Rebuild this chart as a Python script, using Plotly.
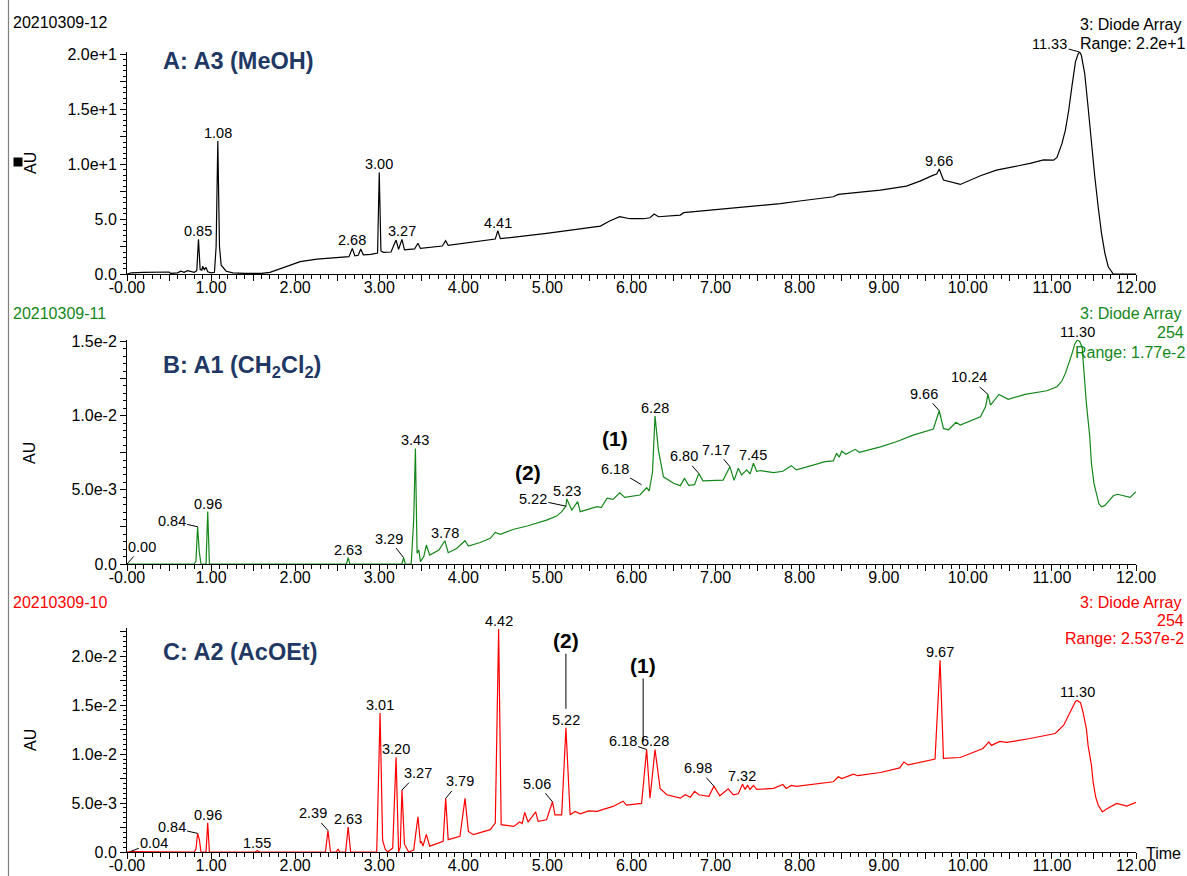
import plotly.graph_objects as go

W, H = 1187, 876

# ---------------- data ----------------
# A: 20210309-12, extract A3 (MeOH) - absorbance in AU
time_a = [0.00, 0.05, 0.20, 0.40, 0.50, 0.52, 0.60, 0.64, 0.68, 0.72, 0.76, 0.80, 0.83, 0.85,
          0.87, 0.89, 0.90, 0.92, 0.94, 0.96, 1.00, 1.04, 1.06, 1.08, 1.10, 1.12, 1.18, 1.26,
          1.40, 1.60, 1.70, 1.86, 2.06, 2.26, 2.45, 2.64, 2.68, 2.71, 2.75, 2.78, 2.81, 2.90,
          2.98, 3.00, 3.02, 3.05, 3.14, 3.20, 3.23, 3.27, 3.30, 3.42, 3.46, 3.49, 3.75, 3.79,
          3.82, 4.38, 4.41, 4.44, 4.99, 5.39, 5.63, 5.74, 5.86, 5.98, 6.14, 6.22, 6.27, 6.32,
          6.58, 6.62, 6.97, 7.37, 7.77, 8.00, 8.40, 8.46, 8.96, 9.27, 9.43, 9.59, 9.63, 9.66,
          9.71, 9.91, 10.15, 10.34, 10.74, 10.90, 11.02, 11.06, 11.12, 11.16, 11.20, 11.24,
          11.28, 11.31, 11.33, 11.35, 11.39, 11.43, 11.47, 11.51, 11.55, 11.59, 11.63, 11.67,
          11.73, 12.00]
au_a = [0.0, 0.10, 0.15, 0.18, 0.18, 0.05, 0.10, 0.25, 0.15, 0.30, 0.20, 0.15, 0.30, 3.15,
        0.40, 0.35, 0.70, 0.40, 0.60, 0.20, 0.10, 0.15, 2.5, 12.1, 2.5, 0.8, 0.25, 0.10,
        0.05, 0.05, 0.15, 0.60, 1.12, 1.36, 1.48, 1.58, 2.33, 1.65, 1.70, 2.28, 1.75, 1.79,
        1.90, 9.24, 2.10, 1.97, 2.00, 3.09, 2.24, 3.15, 2.20, 2.28, 2.80, 2.33, 2.55, 3.03,
        2.60, 3.18, 3.94, 3.21, 3.70, 4.12, 4.36, 4.82, 5.21, 5.03, 5.03, 5.12, 5.45, 5.21,
        5.36, 5.58, 5.82, 6.12, 6.40, 6.64, 7.03, 7.24, 7.64, 8.00, 8.45, 9.00, 9.09, 9.55,
        8.55, 8.15, 8.94, 9.45, 10.06, 10.39, 10.36, 10.60, 11.88, 13.09, 14.90, 17.18,
        19.30, 20.0, 20.2, 19.9, 18.24, 15.20, 11.88, 8.85, 6.12, 3.70, 1.88, 0.66,
        0.0, 0.0]
peaks_a = [0.85, 1.08, 2.68, 3.00, 3.27, 4.41, 9.66]
leader_peaks_a = [11.33]

# B: 20210309-11, extract A1 (CH2Cl2) - absorbance in mAU (x 1e-3 AU)
time_b = [0.00, 0.80, 0.82, 0.84, 0.86, 0.88, 0.94, 0.96, 0.98, 2.61, 2.63, 2.65, 3.27, 3.29,
          3.31, 3.38, 3.41, 3.43, 3.45, 3.47, 3.49, 3.53, 3.56, 3.60, 3.71, 3.78, 3.82, 3.92,
          4.02, 4.06, 4.20, 4.32, 4.38, 4.44, 4.60, 4.76, 4.99, 5.11, 5.17, 5.22, 5.23, 5.29,
          5.36, 5.39, 5.59, 5.64, 5.71, 5.78, 5.86, 5.92, 6.10, 6.18, 6.21, 6.25, 6.28, 6.32,
          6.38, 6.50, 6.58, 6.63, 6.68, 6.75, 6.80, 6.85, 7.09, 7.17, 7.22, 7.27, 7.31, 7.37,
          7.41, 7.45, 7.49, 7.53, 7.69, 7.80, 7.90, 7.96, 8.16, 8.30, 8.40, 8.44, 8.47, 8.50,
          8.55, 8.66, 8.71, 8.96, 9.15, 9.35, 9.59, 9.66, 9.71, 9.77, 9.86, 9.91, 10.15, 10.21,
          10.24, 10.27, 10.37, 10.48, 10.68, 10.94, 11.06, 11.12, 11.16, 11.20, 11.24, 11.27,
          11.30, 11.33, 11.36, 11.38, 11.41, 11.45, 11.47, 11.50, 11.53, 11.56, 11.59, 11.63,
          11.67, 11.73, 11.78, 11.85, 11.93, 12.00]
mau_b = [0.0, 0.0, 0.2, 2.51, 0.8, 0.0, 0.0, 3.53, 0.0, 0.0, 0.43, 0.0, 0.0, 0.43,
         0.0, 0.0, 3.0, 7.79, 0.72, 0.94, 0.16, 0.50, 1.28, 0.60, 0.94, 1.57, 0.76, 1.05,
         1.57, 1.21, 1.45, 1.73, 2.13, 2.00, 2.34, 2.56, 2.96, 3.23, 3.53, 3.90, 4.38, 3.64,
         4.20, 3.53, 3.86, 3.80, 4.43, 4.36, 4.80, 4.49, 4.65, 5.14, 4.92, 6.20, 9.97, 7.68,
         5.88, 5.44, 5.28, 5.77, 5.30, 5.35, 6.11, 5.61, 5.66, 6.56, 5.64, 6.45, 6.00, 6.34,
         6.07, 6.79, 6.23, 6.30, 6.16, 6.25, 6.63, 6.34, 6.67, 6.90, 6.95, 7.46, 7.20, 7.60,
         7.40, 7.73, 7.53, 7.90, 8.24, 8.69, 9.10, 10.33, 9.14, 9.05, 9.55, 9.37, 9.93, 10.60,
         11.43, 10.71, 11.43, 11.10, 11.43, 11.68, 11.95, 12.35, 12.85, 13.48, 14.20, 14.80,
         15.10, 15.00, 14.60, 13.07, 10.83, 8.58, 6.79, 5.44, 4.65, 4.04, 3.86, 3.95,
         4.20, 4.60, 4.70, 4.58, 4.49, 4.87]
peaks_b = [0.96, 2.63, 3.43, 3.78, 5.23, 6.28, 7.45, 11.30]
leader_peaks_b = [0.00, 0.84, 3.29, 5.22, 6.18, 6.80, 7.17, 9.66, 10.24]

# C: 20210309-10, extract A2 (AcOEt) - absorbance in mAU (x 1e-3 AU)
time_c = [0.00, 0.04, 0.80, 0.82, 0.84, 0.86, 0.88, 0.94, 0.96, 0.98, 1.52, 1.55, 1.58, 2.36,
          2.39, 2.42, 2.49, 2.51, 2.53, 2.60, 2.63, 2.66, 2.97, 3.01, 3.04, 3.07, 3.10, 3.16,
          3.20, 3.23, 3.25, 3.27, 3.30, 3.35, 3.41, 3.46, 3.49, 3.50, 3.52, 3.56, 3.60, 3.70,
          3.76, 3.79, 3.82, 3.96, 4.02, 4.06, 4.12, 4.32, 4.38, 4.42, 4.45, 4.60, 4.67, 4.70,
          4.73, 4.77, 4.86, 4.89, 4.99, 5.06, 5.09, 5.17, 5.22, 5.27, 5.33, 5.39, 5.49, 5.59,
          5.78, 5.90, 5.94, 6.12, 6.18, 6.22, 6.28, 6.34, 6.42, 6.58, 6.64, 6.70, 6.75, 6.80,
          6.92, 6.98, 7.05, 7.15, 7.21, 7.27, 7.32, 7.35, 7.38, 7.41, 7.45, 7.49, 7.69, 7.80,
          7.84, 7.90, 7.96, 8.40, 8.46, 8.50, 8.64, 8.69, 8.96, 9.19, 9.24, 9.29, 9.47, 9.61,
          9.67, 9.71, 9.91, 10.18, 10.25, 10.28, 10.38, 10.46, 10.74, 11.04, 11.14, 11.20,
          11.24, 11.28, 11.30, 11.34, 11.37, 11.41, 11.43, 11.47, 11.49, 11.52, 11.55, 11.60,
          11.65, 11.69, 11.77, 11.89, 12.00]
mau_c = [0.0, 0.05, 0.0, 0.3, 1.90, 1.3, 0.0, 0.0, 3.0, 0.0, 0.0, 0.14, 0.0, 0.0,
         2.20, 0.0, 0.0, 0.30, 0.0, 0.0, 2.55, 0.0, 0.0, 14.2, 1.2, 0.3, 0.0, 0.4,
         9.69, 0.0, 0.5, 6.33, 0.8, 0.0, 0.2, 3.60, 0.9, 1.1, 0.6, 1.8, 0.6, 0.9,
         1.1, 5.48, 1.26, 1.60, 5.48, 2.10, 1.77, 2.28, 2.96, 22.8, 2.80, 2.62, 3.06, 2.90,
         4.05, 3.06, 4.10, 3.14, 3.30, 5.14, 3.80, 3.80, 12.70, 3.80, 4.15, 3.90, 4.20, 4.15,
         4.66, 5.20, 4.80, 4.97, 10.48, 5.50, 10.48, 6.50, 5.85, 5.50, 5.85, 5.60, 6.20, 5.85,
         5.70, 6.73, 5.75, 6.46, 5.85, 5.95, 6.94, 6.40, 6.80, 6.40, 6.80, 6.40, 6.50, 6.90,
         6.50, 6.80, 6.70, 7.18, 7.69, 7.50, 7.96, 7.80, 8.13, 8.60, 9.20, 8.90, 9.20, 9.50,
         19.6, 9.58, 9.66, 10.58, 11.26, 10.90, 11.30, 11.20, 11.60, 12.11, 12.96, 13.98,
         14.83, 15.40, 15.50, 15.27, 14.30, 12.60, 10.90, 8.88, 7.17, 5.64, 4.80, 4.10,
         4.39, 4.60, 4.97, 4.70, 5.07]
peaks_c = [0.96, 1.55, 2.63, 3.01, 3.20, 4.42, 5.22, 6.28, 7.32, 9.67, 11.30]
leader_peaks_c = [0.04, 0.84, 2.39, 3.27, 3.79, 5.06, 6.18, 6.98]

# axis tick labels
x_tick_vals = [i * 0.5 for i in range(25)]
x_tick_text = ["-0.00" if v == 0 else (f"{v:.2f}" if v == int(v) else " ") for v in x_tick_vals]
y_tick_vals_a = [0, 2.5, 5, 7.5, 10, 12.5, 15, 17.5, 20]
y_tick_text_a = ["0.0", " ", "5.0", " ", "1.0e+1", " ", "1.5e+1", " ", "2.0e+1"]
y_tick_vals_b = [0, 0.0025, 0.005, 0.0075, 0.010, 0.0125, 0.015]
y_tick_text_b = ["0.0", " ", "5.0e-3", " ", "1.0e-2", " ", "1.5e-2"]
y_tick_vals_c = [0, 0.0025, 0.005, 0.0075, 0.010, 0.0125, 0.015, 0.0175, 0.020, 0.0225]
y_tick_text_c = ["0.0", " ", "5.0e-3", " ", "1.0e-2", " ", "1.5e-2", " ", "2.0e-2", " "]

au_b = [v * 1e-3 for v in mau_b]
au_c = [v * 1e-3 for v in mau_c]

# ---------------- styling ----------------
FONT = "Liberation Sans"
GREEN = "#14871a"
RED = "#ff0000"
NAVY = "#1f3864"


def px(xp):
    return xp / W


def py(yp):
    return 1 - yp / H


fig = go.Figure()
fig.add_trace(go.Scatter(x=time_a, y=au_a, mode="lines", line=dict(color="black", width=1.2),
                         xaxis="x", yaxis="y", showlegend=False, hoverinfo="skip"))
fig.add_trace(go.Scatter(x=time_b, y=au_b, mode="lines", line=dict(color=GREEN, width=1.2),
                         xaxis="x2", yaxis="y2", showlegend=False, hoverinfo="skip"))
fig.add_trace(go.Scatter(x=time_c, y=au_c, mode="lines", line=dict(color=RED, width=1.2),
                         xaxis="x3", yaxis="y3", showlegend=False, hoverinfo="skip"))


def xaxis_def(anchor):
    return dict(range=[0, 12], domain=[px(127), px(1136)], anchor=anchor, automargin=False,
                showline=True, linecolor="black", linewidth=1, mirror=False,
                showgrid=False, zeroline=False,
                ticks="outside", ticklen=6, tickwidth=1, tickcolor="black",
                ticklabelstandoff=-7,
                tickmode="array", tickvals=x_tick_vals, ticktext=x_tick_text,
                minor=dict(dtick=0.1, tick0=0, ticks="outside", ticklen=3.5,
                           tickcolor="black", tickwidth=1, showgrid=False),
                tickfont=dict(family=FONT, size=16, color="black"))


def yaxis_def(anchor, top_px, bottom_px, rng, vals, text, minor_step):
    return dict(range=rng, domain=[py(bottom_px), py(top_px)], anchor=anchor, automargin=False,
                showline=True, linecolor="black", linewidth=1,
                showgrid=False, zeroline=False,
                ticks="outside", ticklen=6, tickwidth=1, tickcolor="black",
                tickmode="array", tickvals=vals, ticktext=text,
                minor=dict(dtick=minor_step, tick0=0, ticks="outside", ticklen=3,
                           tickcolor="black", tickwidth=1, showgrid=False),
                tickfont=dict(family=FONT, size=16, color="black"))


fig.update_layout(
    width=W, height=H, autosize=False,
    margin=dict(l=0, r=0, t=0, b=0, autoexpand=False),
    paper_bgcolor="white", plot_bgcolor="white",
    xaxis=xaxis_def("y"), xaxis2=xaxis_def("y2"), xaxis3=xaxis_def("y3"),
    yaxis=yaxis_def("x", 52, 274, [0, 20.2], y_tick_vals_a, y_tick_text_a, 0.5),
    yaxis2=yaxis_def("x2", 340, 564, [0, 0.0151], y_tick_vals_b, y_tick_text_b, 0.0005),
    yaxis3=yaxis_def("x3", 628, 852, [0, 0.0229], y_tick_vals_c, y_tick_text_c, 0.0005),
)

ann = []
LBL = dict(family=FONT, size=14.5, color="black")


def plain_label(times, vals, t, xa, ya):
    return dict(x=t, y=vals[times.index(t)], xref=xa, yref=ya, text=f"{t:.2f}",
                showarrow=False, yanchor="bottom", yshift=-2, font=LBL)


def leader_label(times, vals, t, xa, ya, dx, dy, standoff=0):
    return dict(x=t, y=vals[times.index(t)], xref=xa, yref=ya, text=f"{t:.2f}",
                showarrow=True, arrowhead=0, arrowwidth=1, arrowcolor="black",
                ax=dx, ay=dy, standoff=standoff, font=LBL)


# text offsets (px) of the leader-line labels
offsets_a = {11.33: (-30, -8)}
offsets_b = {0.00: (15, -17), 0.84: (-26, -6), 3.29: (-15, -19), 5.22: (-33, -7),
             6.18: (-32, -19), 6.80: (-15, -17), 7.17: (-14, -17), 9.66: (-15, -17),
             10.24: (-19, -17)}
offsets_c = {0.04: (24, -9), 0.84: (-26, -6), 2.39: (-15, -17), 3.27: (16, -17),
             3.79: (14, -17), 5.06: (-15, -18), 6.18: (-24, -8), 6.98: (-16, -18)}
standoff_b = {6.18: 6}

for t in peaks_a:
    ann.append(plain_label(time_a, au_a, t, "x", "y"))
for t in leader_peaks_a:
    ann.append(leader_label(time_a, au_a, t, "x", "y", *offsets_a[t]))
for t in peaks_b:
    ann.append(plain_label(time_b, au_b, t, "x2", "y2"))
for t in leader_peaks_b:
    ann.append(leader_label(time_b, au_b, t, "x2", "y2", *offsets_b[t], standoff=standoff_b.get(t, 0)))
for t in peaks_c:
    ann.append(plain_label(time_c, au_c, t, "x3", "y3"))
for t in leader_peaks_c:
    ann.append(leader_label(time_c, au_c, t, "x3", "y3", *offsets_c[t]))

# compound markers
BOLD = dict(family=FONT, size=21, color="black")
ann.append(dict(x=5.23, y=au_b[time_b.index(5.23)], xref="x2", yref="y2", text="<b>(2)</b>",
                showarrow=False, xshift=-39, yshift=27, font=BOLD))
ann.append(dict(x=6.18, y=au_b[time_b.index(6.18)], xref="x2", yref="y2", text="<b>(1)</b>",
                showarrow=False, xshift=-32, yshift=49, font=BOLD))
ann.append(dict(x=5.22, y=au_c[time_c.index(5.22)], xref="x3", yref="y3", text="<b>(2)</b>",
                showarrow=True, arrowhead=0, arrowwidth=1, arrowcolor="black",
                ax=0, ay=-87, standoff=19, font=BOLD))
ann.append(dict(x=6.18, y=au_c[time_c.index(6.18)], xref="x3", yref="y3", text="<b>(1)</b>",
                showarrow=True, arrowhead=0, arrowwidth=1, arrowcolor="black",
                ax=0, ay=-84, standoff=8, xshift=-3.5, font=BOLD))


def paper_text(text, xp, yp, anchor="left", color="black", size=16, bold=False):
    return dict(x=px(xp), y=py(yp), xref="paper", yref="paper", text=f"<b>{text}</b>" if bold else text,
                showarrow=False, xanchor=anchor, yanchor="middle",
                font=dict(family=FONT, size=size, color=color))


# panel titles
ann.append(paper_text("A: A3 (MeOH)", 161, 61, color=NAVY, size=23.5, bold=True))
ann.append(paper_text("B: A1 (CH<sub>2</sub>Cl<sub>2</sub>)", 161, 366, color=NAVY, size=23.5, bold=True))
ann.append(paper_text("C: A2 (AcOEt)", 161, 652, color=NAVY, size=23.5, bold=True))

# sample names
ann.append(paper_text("20210309-12", 11, 23))
ann.append(paper_text("20210309-11", 11, 313, color=GREEN))
ann.append(paper_text("20210309-10", 11, 602, color=RED))

# detector headers
ann.append(paper_text("3: Diode Array", 1183, 24, anchor="right"))
ann.append(paper_text("Range: 2.2e+1", 1078, 43))
ann.append(paper_text("3: Diode Array", 1183, 313, anchor="right", color=GREEN))
ann.append(paper_text("254", 1186, 332, anchor="right", color=GREEN))
ann.append(paper_text("Range: 1.77e-2", 1073, 352, color=GREEN))
ann.append(paper_text("3: Diode Array", 1183, 602, anchor="right", color=RED))
ann.append(paper_text("254", 1186, 620, anchor="right", color=RED))
ann.append(paper_text("Range: 2.537e-2", 1063, 638, color=RED))

# axis titles
for yp in (163, 453, 740):
    ann.append(dict(x=px(30), y=py(yp), xref="paper", yref="paper", text="AU", textangle=-90,
                    showarrow=False, xanchor="center", yanchor="middle",
                    font=dict(family=FONT, size=16, color="black")))
ann.append(paper_text("Time", 1144, 853))

fig.update_layout(annotations=ann)

fig.update_layout(shapes=[
    dict(type="line", xref="paper", yref="paper", x0=px(8.5), x1=px(8.5), y0=0, y1=1,
         line=dict(color="#808080", width=1.2)),
    dict(type="rect", xref="paper", yref="paper", x0=px(13.5), x1=px(22.5), y0=py(166.5), y1=py(157.5),
         line=dict(width=0), fillcolor="black"),
])

fig.write_html("out.html")
